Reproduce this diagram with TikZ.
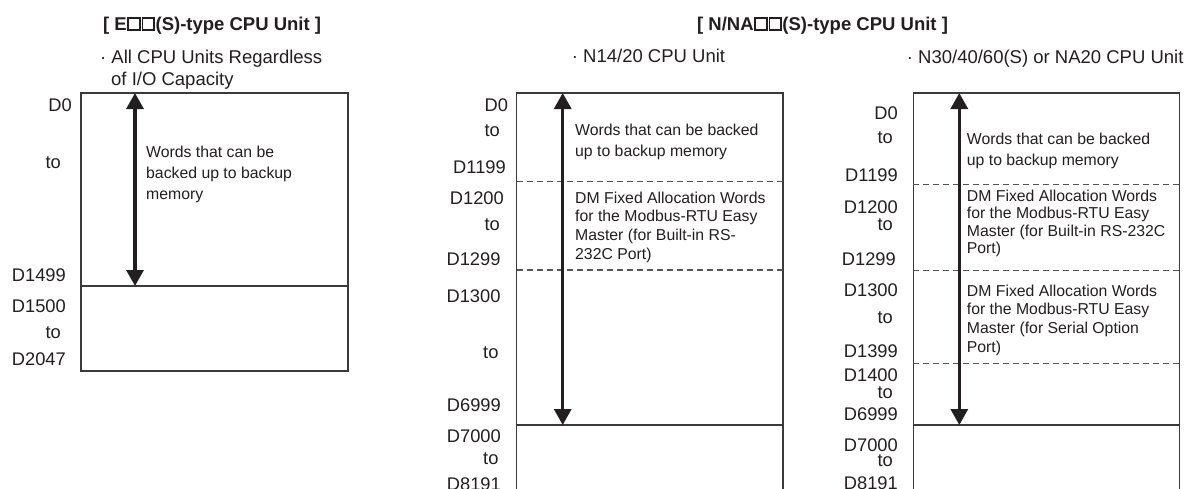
\documentclass[tikz,border=0pt]{standalone}
\usepackage{fontspec}
\setmainfont{Liberation Sans}
\usetikzlibrary{arrows.meta}
\definecolor{txt}{HTML}{231F20}
\definecolor{linec}{HTML}{3A3A3A}
\definecolor{dashc}{HTML}{555555}
\newcommand\fLbl{\fontsize{18.3}{22}\selectfont}
\newcommand\fBody{\fontsize{15.8}{19}\selectfont}
\newcommand\fSub{\fontsize{18.5}{22}\selectfont}
\newcommand\fTtl{\fontsize{18.5}{22}\selectfont\bfseries}
\newcommand\wsq{\kern0.6pt{\fboxsep=0pt\fboxrule=1.5pt\raisebox{1.5pt}{\fbox{\vrule width0pt height0.55em\hspace{0.55em}}}}\kern0.6pt}
\tikzset{
  membox/.style={draw=linec, line width=1.3pt},
  dashline/.style={draw=dashc, line width=1.1pt, dash pattern=on 6pt off 4pt},
  bigarrow/.style={line width=3.2pt, draw=txt, {Triangle[width=17pt,length=16pt]}-{Triangle[width=17pt,length=16pt]}},
  lbl/.style={anchor=base east, inner sep=0pt, font=\fLbl, text=txt},
  body/.style={anchor=base west, inner sep=0pt, font=\fBody, text=txt},
  sub/.style={anchor=base west, inner sep=0pt, font=\fSub, text=txt},
  ttl/.style={anchor=base west, inner sep=0pt, font=\fTtl, text=txt},
}
\begin{document}
\begin{tikzpicture}[x=1pt,y=-1pt]
\useasboundingbox (0,0) rectangle (1201,488);
\clip (0,0) rectangle (1201,488);
\fill[white] (0,0) rectangle (1201,488);

% ---------- Titles ----------
\node[ttl] (t1) at (103,30.5) {[ E\wsq\wsq(S)-type CPU Unit ]};
\node[ttl] (t2) at (697,30.5) {[ N/NA\wsq\wsq(S)-type CPU Unit ]};

% ---------- Column 1 ----------
\node[sub] (s1a) at (100,63.3) {· All CPU Units Regardless};
\node[sub] (s1b) at (111,85) {of I/O Capacity};
\draw[membox] (81,93) rectangle (348,371);
\draw[membox] (81,286) -- (348,286);
\coordinate (a1t) at (135,93);
\coordinate (a1b) at (135,286);
\draw[bigarrow] (a1t) -- (a1b);
\node[body] (b1a) at (146,157.5) {Words that can be};
\node[body] (b1b) at (146,178.5) {backed up to backup};
\node[body] (b1c) at (146,199.5) {memory};
\node[lbl] (l1a) at (72,111.7) {D0};
\node[lbl] (l1b) at (61,168) {to};
\node[lbl] (l1c) at (66,281.7) {D1499};
\node[lbl] (l1d) at (66,312.3) {D1500};
\node[lbl] (l1e) at (61,338) {to};
\node[lbl] (l1f) at (66,365.7) {D2047};

% ---------- Column 2 ----------
\node[sub] (s2) at (571.7,62.7) {· N14/20 CPU Unit};
\draw[membox] (516.7,93) rectangle (783,520);
\draw[membox] (516.7,425) -- (783,425);
\draw[dashline] (516.7,181.7) -- (783,181.7);
\draw[dashline] (516.7,270) -- (783,270);
\coordinate (a2t) at (562.7,93);
\coordinate (a2b) at (562.7,425);
\draw[bigarrow] (a2t) -- (a2b);
\node[body] (b2a) at (575,135) {Words that can be backed};
\node[body] (b2b) at (575,156) {up to backup memory};
\node[body] (b2c) at (575,203) {DM Fixed Allocation Words};
\node[body] (b2d) at (575,221.7) {for the Modbus-RTU Easy};
\node[body] (b2e) at (575,240.3) {Master (for Built-in RS-};
\node[body] (b2f) at (575,259) {232C Port)};
\node[lbl] (l2a) at (508.3,111) {D0};
\node[lbl] (l2b) at (500,136) {to};
\node[lbl] (l2c) at (506,173) {D1199};
\node[lbl] (l2d) at (504,204) {D1200};
\node[lbl] (l2e) at (500,230.7) {to};
\node[lbl] (l2f) at (500.7,265) {D1299};
\node[lbl] (l2g) at (500.7,302.7) {D1300};
\node[lbl] (l2h) at (498.7,358) {to};
\node[lbl] (l2i) at (501,411.7) {D6999};
\node[lbl] (l2j) at (501,442.7) {D7000};
\node[lbl] (l2k) at (498.7,464) {to};
\node[lbl] (l2l) at (501,490) {D8191};

% ---------- Column 3 ----------
\node[sub] (s3) at (906.7,63.3) {· N30/40/60(S) or NA20 CPU Unit};
\draw[membox] (913.3,93) rectangle (1179.3,520);
\draw[membox] (913.3,425) -- (1179.3,425);
\draw[dashline] (913.3,184.3) -- (1179.3,184.3);
\draw[dashline] (913.3,270.7) -- (1179.3,270.7);
\draw[dashline] (913.3,363.3) -- (1179.3,363.3);
\coordinate (a3t) at (959.3,93);
\coordinate (a3b) at (959.3,425);
\draw[bigarrow] (a3t) -- (a3b);
\node[body] (b3a) at (966.7,144) {Words that can be backed};
\node[body] (b3b) at (966.7,165) {up to backup memory};
\node[body] (b3c) at (966.7,201) {DM Fixed Allocation Words};
\node[body] (b3d) at (966.7,218.5) {for the Modbus-RTU Easy};
\node[body] (b3e) at (966.7,236) {Master (for Built-in RS-232C};
\node[body] (b3f) at (966.7,253.5) {Port)};
\node[body] (b3g) at (966.7,296) {DM Fixed Allocation Words};
\node[body] (b3h) at (966.7,314.7) {for the Modbus-RTU Easy};
\node[body] (b3i) at (966.7,333.3) {Master (for Serial Option};
\node[body] (b3j) at (966.7,352) {Port)};
\node[lbl] (l3a) at (898,119.3) {D0};
\node[lbl] (l3b) at (893,143.3) {to};
\node[lbl] (l3c) at (898,181.7) {D1199};
\node[lbl] (l3d) at (898,213.3) {D1200};
\node[lbl] (l3e) at (893,230) {to};
\node[lbl] (l3f) at (896,265) {D1299};
\node[lbl] (l3g) at (898,296.7) {D1300};
\node[lbl] (l3h) at (893,323.3) {to};
\node[lbl] (l3i) at (898,357.3) {D1399};
\node[lbl] (l3j) at (898,381.7) {D1400};
\node[lbl] (l3k) at (893,398.3) {to};
\node[lbl] (l3l) at (898,420) {D6999};
\node[lbl] (l3m) at (898,451) {D7000};
\node[lbl] (l3n) at (893,466.7) {to};
\node[lbl] (l3o) at (898,489) {D8191};
\end{tikzpicture}
\end{document}
